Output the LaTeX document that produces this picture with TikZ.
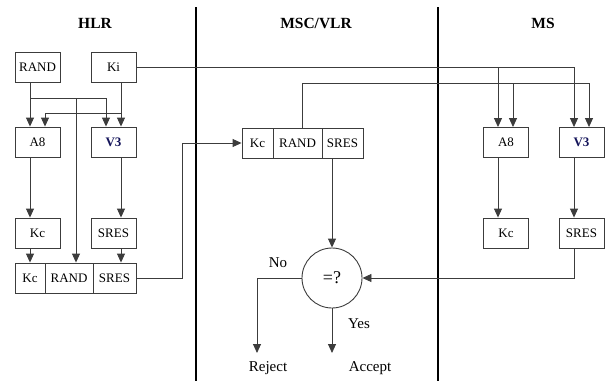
\documentclass[tikz,border=0pt]{standalone}
\usepackage{fontspec}
\setmainfont{Liberation Serif}
\usetikzlibrary{arrows.meta,calc}
\definecolor{vnavy}{RGB}{20,20,90}
\definecolor{lgray}{RGB}{60,60,60}
\begin{document}
\begin{tikzpicture}[x=1pt,y=-1pt,
  txt/.style={font=\fontsize{13}{15}\selectfont},
  lbl/.style={font=\fontsize{15}{17}\selectfont},
  box/.style={draw=lgray,line width=0.9pt,minimum width=45pt,minimum height=30pt,inner sep=0pt,txt},
  cell/.style={draw=lgray,line width=0.9pt,minimum height=30pt,inner sep=0pt,txt},
  vbox/.style={box,font=\fontsize{13}{15}\selectfont\bfseries,text=vnavy},
  ln/.style={draw=lgray,line width=0.9pt},
  arr/.style={ln,-{Triangle[length=9pt,width=8pt]}},
  ttl/.style={font=\fontsize{15.5}{17}\selectfont\bfseries},
  divider/.style={draw=black,line width=2pt}]
\useasboundingbox (0,0) rectangle (607,381);
% titles
\node[ttl] (thlr) at (95,23) {HLR};
\node[ttl] (tmsc) at (316,23) {MSC/VLR};
\node[ttl] (tms) at (543,23) {MS};
% dividers
\coordinate (d1t) at (196,7); \coordinate (d1b) at (196,381);
\coordinate (d2t) at (438,7); \coordinate (d2b) at (438,381);
\draw[divider] (d1t) -- (d1b);
\draw[divider] (d2t) -- (d2b);
% row helpers
\coordinate (r67) at (0,67.5);
\coordinate (r83) at (0,83);
\coordinate (r98) at (0,98);
\coordinate (r113) at (0,113);
\coordinate (r143) at (0,143);
\coordinate (r278) at (0,278);
\coordinate (c182) at (182,0);
\coordinate (c257) at (257,0);
\coordinate (c302) at (302,0);
\coordinate (c353) at (0,353);
% HLR
\node[box] (rand) at (37.5,67.5) {RAND};
\node[box] (ki) at (113.5,67.5) {Ki};
\node[box] (a8h) at (37.5,142) {A8};
\node[vbox] (v3h) at (113.5,142) {V3};
\node[box] (kch) at (37.5,233) {Kc};
\node[box] (sresh) at (113.5,233) {SRES};
\node[cell,minimum width=30pt] (bkc) at (30,278) {Kc};
\node[cell,minimum width=48pt] (brand) at (69,278) {RAND};
\node[cell,minimum width=43pt] (bsres) at (114.5,278) {SRES};
% MSC
\node[cell,minimum width=31pt] (mkc) at (257.5,143) {Kc};
\node[cell,minimum width=49pt] (mrand) at (297.5,143) {RAND};
\node[cell,minimum width=41pt] (msres) at (342.5,143) {SRES};
\node[draw=lgray,line width=0.9pt,circle,minimum size=60pt,inner sep=0pt,font=\fontsize{18}{20}\selectfont] (cmp) at (332,278) {=?};
\node[lbl] (lno) at (278,263) {No};
\node[lbl] (lyes) at (359,324) {Yes};
\node[lbl] (lrej) at (268,368) {Reject};
\node[lbl] (lacc) at (370,368) {Accept};
% MS
\node[box] (a8m) at (506,142.5) {A8};
\node[vbox] (v3m) at (581.5,142.5) {V3};
\node[box] (kcm) at (506,233) {Kc};
\node[box] (sresm) at (581.5,233) {SRES};
% HLR connectors
\draw[arr] ([xshift=-7.5pt]rand.south) -- ([xshift=-7.5pt]rand.south |- a8h.north);
\draw[arr] ([xshift=-7.5pt]rand.south |- r98) -- ([xshift=-7.5pt]v3h.north |- r98) -- ([xshift=-7.5pt]v3h.north);
\draw[arr] ([xshift=7pt]brand.north |- r98) -- ([xshift=7pt]brand.north);
\draw[arr] ([xshift=7.5pt]ki.south) -- ([xshift=7.5pt]v3h.north);
\draw[arr] ([xshift=7.5pt]ki.south |- r113) -- ([xshift=7.5pt]a8h.north |- r113) -- ([xshift=7.5pt]a8h.north);
\draw[arr] ([xshift=-7.5pt]a8h.south) -- ([xshift=-7.5pt]kch.north);
\draw[arr] ([xshift=7.5pt]v3h.south) -- ([xshift=7.5pt]sresh.north);
\draw[arr] ([xshift=-7.5pt]kch.south) -- (bkc.north);
\draw[arr] ([xshift=7.5pt]sresh.south) -- ([xshift=7.5pt]sresh.south |- bsres.north);
\draw[arr] (bsres.east) -- (c182 |- r278) -- (c182 |- r143) -- (mkc.west);
% Ki to MS
\draw[arr] (ki.east) -- ([xshift=-7.5pt]v3m.north |- r67) -- ([xshift=-7.5pt]v3m.north);
\draw[arr] ([xshift=-8pt]a8m.north |- r67) -- ([xshift=-8pt]a8m.north);
% MSC RAND to MS
\draw[arr] (c302 |- mrand.north) -- (c302 |- r83) -- ([xshift=7.5pt]v3m.north |- r83) -- ([xshift=7.5pt]v3m.north);
\draw[arr] ([xshift=7pt]a8m.north |- r83) -- ([xshift=7pt]a8m.north);
% MS internal
\draw[arr] ([xshift=-8pt]a8m.south) -- ([xshift=-8pt]kcm.north);
\draw[arr] ([xshift=-7.5pt]v3m.south) -- ([xshift=-7.5pt]sresm.north);
\draw[arr] ([xshift=-7.5pt]sresm.south) -- ([xshift=-7.5pt]sresm.south |- r278) -- (cmp.east);
% MSC compare
\draw[arr] (cmp.north |- msres.south) -- (cmp.north);
\draw[arr] (cmp.west) -- (c257 |- r278) -- (c257 |- c353);
\draw[arr] (cmp.south) -- (cmp.south |- c353);
\end{tikzpicture}
\end{document}
